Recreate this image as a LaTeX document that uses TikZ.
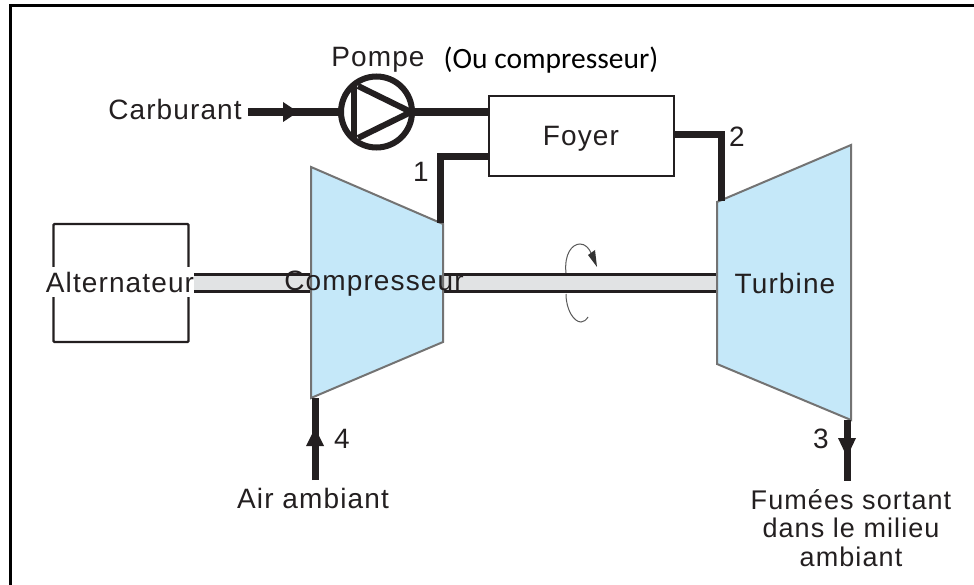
\documentclass[tikz,border=0pt]{standalone}
\usepackage{fontspec}
\setmainfont[LetterSpace=4]{Liberation Sans}
\newfontfamily\carl{Carlito}
\usetikzlibrary{arrows.meta}
\definecolor{machine}{HTML}{C5E8F9}
\definecolor{shaftgray}{HTML}{E1E3E4}
\definecolor{ink}{HTML}{231F20}
\tikzset{
  x=1pt,y=-1pt,
  lab/.style={font=\fontsize{28}{33}\selectfont,text=ink,inner sep=0pt,align=center},
  pipe/.style={draw=ink,line width=7pt},
  fatpipe/.style={draw=ink,line width=8pt},
  shaftline/.style={draw=ink,line width=3pt},
  machinebody/.style={fill=machine,draw=black!55,line width=2pt,line join=miter},
  spin/.style={draw=black!65,line width=1pt},
}
\begin{document}
\begin{tikzpicture}
\useasboundingbox (0,0) rectangle (974,585);
\fill[white] (0,0) rectangle (974,585);
% frame
\draw[black,line width=3pt] (10.5,585) -- (10.5,6) -- (974,6);
% shaft
\fill[shaftgray] (189,275) rectangle (311,291);
\fill[shaftgray] (443,275) rectangle (717,291);
\draw[shaftline] (192,275) -- (311,275) (192,291) -- (311,291);
\draw[shaftline] (443,275) -- (717,275) (443,291) -- (717,291);
% rotation arrow
\draw[spin] (566,273) .. controls (564,254) and (572,244) .. (580,244) .. controls (585,244) and (589,248) .. (591,253);
\fill[black!80] (588,255) -- (595,250) -- (597,267) -- cycle;
\draw[spin] (566,294) .. controls (566,310) and (574,322) .. (581,322) .. controls (584,322) and (586,320) .. (588,317);
% machines
\path[machinebody] (311,167) -- (443,224) -- (443,342) -- (311,398) -- cycle;
\path[machinebody] (717,202) -- (851,145) -- (851,420) -- (717,364) -- cycle;
% alternator
\node[draw=ink,line width=2.2pt,rounded corners=1pt,minimum width=135pt,minimum height=118pt,inner sep=0pt] (alt) at (121,283) {};
\node[lab,fill=white,inner ysep=5pt] (altlab) at (120,282) {Alternateur};
% foyer
\node[draw=ink,line width=2pt,minimum width=185pt,minimum height=80pt,inner sep=0pt] (foyer) at (581.5,136) {};
\node[lab] (foyerlab) at (581,139) {Foyer};
% pump
\node[circle,draw=ink,line width=6pt,minimum size=71pt,inner sep=0pt] (pump) at (376.5,112) {};
\draw[ink,line width=6pt] (354,83) -- (354,141);
\draw[ink,line width=6pt] (358,86) -- (411,112) -- (358,138);
% pipes
\coordinate (fuelin) at (248,112);
\coordinate (foyerIn) at (foyer.west |- pump);
\coordinate (foyerAir) at (489,157);
\coordinate (compOut) at (440,223);
\coordinate (foyerOut) at (674,135);
\coordinate (turbIn) at (721,201);
\coordinate (airEnd) at (315,480);
\coordinate (compIn) at (315,398);
\coordinate (turbOut) at (847,420);
\coordinate (fumeEnd) at (847,481);
\draw[fatpipe] (fuelin) -- (pump.west);
\fill[ink] (283,102) -- (298,112) -- (283,122) -- cycle;
\draw[fatpipe] (pump.east) -- (foyerIn);
\draw[pipe] (compOut) |- (foyerAir);
\draw[pipe] (foyerOut) -| (turbIn);
\draw[pipe] (airEnd) -- (compIn);
\fill[ink] (306,446) -- (315,428) -- (324,446) -- cycle;
\draw[pipe] (turbOut) -- (fumeEnd);
\fill[ink] (838,438) -- (856,438) -- (847,457) -- cycle;
% labels
\node[lab] (carb) at (175,109) {Carburant};
\node[lab] (pompe) at (378,60) {Pompe};
\node[font=\carl\fontsize{29.5}{34}\selectfont,text=black,inner sep=0pt] (ou) at (551,60) {(Ou compresseur)};
\node[lab] (comp) at (374,284) {Compresseur};
\node[lab] (turb) at (785,283) {Turbine};
\node[lab] (n1) at (421,172) {1};
\node[lab] (n2) at (737,137) {2};
\node[lab] (n3) at (821,439) {3};
\node[lab] (n4) at (342,439) {4};
\node[lab] (air) at (313,498) {Air ambiant};
\node[lab,font=\fontsize{27}{28.5}\selectfont] (fume) at (851,528) {Fumées sortant\\dans le milieu\\ambiant};
\end{tikzpicture}
\end{document}
